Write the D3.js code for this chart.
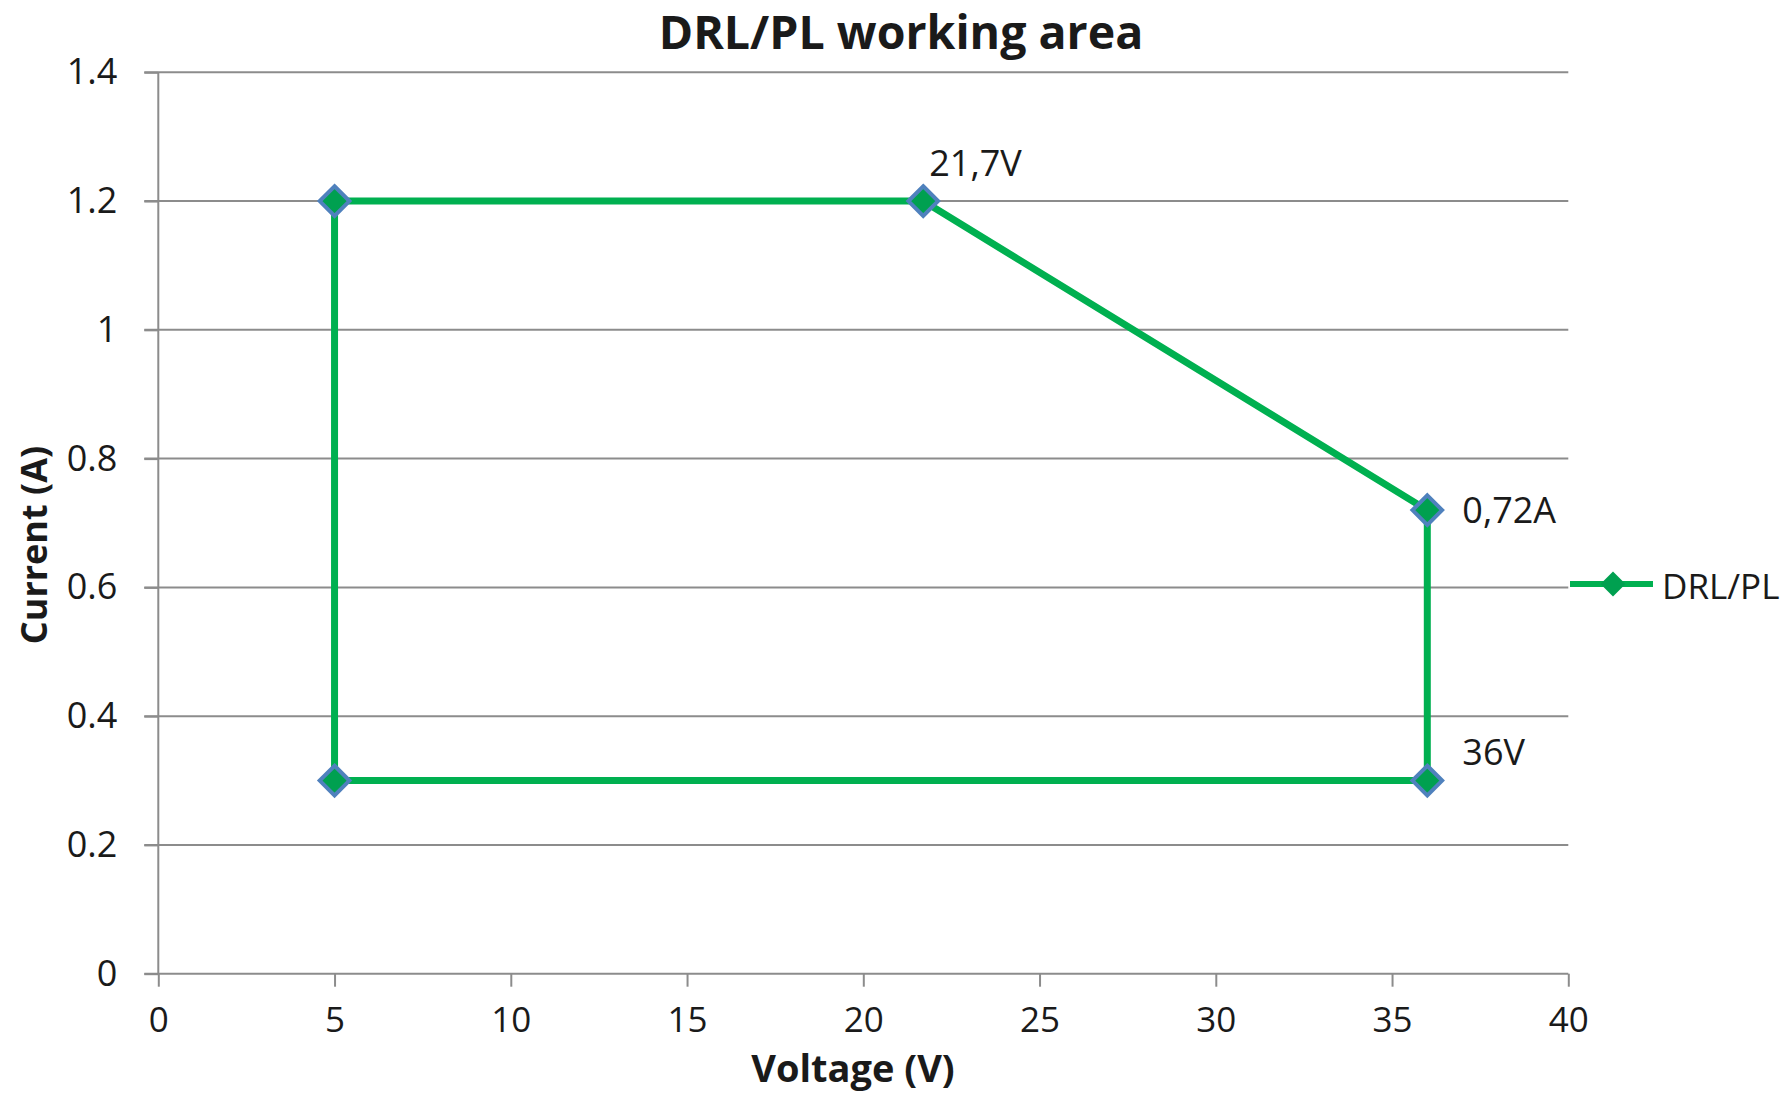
<!DOCTYPE html>
<html><head><meta charset="utf-8">
<script src="https://cdn.jsdelivr.net/npm/d3@7"></script>
<style>body{margin:0;background:#fff}text{font-family:"Open Sans",sans-serif;fill:#1a1a1a}</style>
</head><body>
<svg id="c" width="1787" height="1093"></svg>
<script>
const seriesName = "DRL/PL";
const voltage = [5, 5, 21.7, 36, 36, 5];
const current = [0.3, 1.2, 1.2, 0.72, 0.3, 0.3];
const xTicks = [0, 5, 10, 15, 20, 25, 30, 35, 40];
const yTicks = [0, 0.2, 0.4, 0.6, 0.8, 1, 1.2, 1.4];
const yTickLabels = ["0", "0.2", "0.4", "0.6", "0.8", "1", "1.2", "1.4"];
const pointLabels = [{i: 2, text: "21,7V"}, {i: 3, text: "0,72A"}, {i: 4, text: "36V"}];

const svg = d3.select("#c");
const x = d3.scaleLinear().domain([0, 40]).range([158.3, 1568.3]);
const y = d3.scaleLinear().domain([0, 1.4]).range([973.7, 72.3]);
const grid = "#8c8c8c";

// gridlines
svg.append("g").selectAll("line").data(yTicks.filter(d => d > 0)).join("line")
  .attr("x1", x(0) - 14).attr("x2", x(40)).attr("y1", d => y(d)).attr("y2", d => y(d))
  .attr("stroke", grid).attr("stroke-width", 2);

// axes
const yAxis = svg.append("g").attr("transform", `translate(${x(0)},0)`)
  .call(d3.axisLeft(y).tickValues(yTicks).tickFormat((d, i) => yTickLabels[i]).tickSize(14).tickPadding(27));
yAxis.select(".domain").attr("stroke", grid).attr("stroke-width", 2).attr("d", `M-14,${y(0)}H0V${y(1.4)}`);
yAxis.selectAll(".tick line").attr("stroke", grid).attr("stroke-width", 2);
yAxis.selectAll(".tick text").attr("font-size", 36).attr("fill", "#1a1a1a").attr("font-family", "Open Sans");

const xAxis = svg.append("g").attr("transform", `translate(0,${y(0)})`)
  .call(d3.axisBottom(x).tickValues(xTicks).tickSize(13).tickPadding(20));
xAxis.select(".domain").attr("stroke", grid).attr("stroke-width", 2).attr("d", `M${x(0)},0H${x(40)}`);
xAxis.selectAll(".tick line").attr("stroke", grid).attr("stroke-width", 2);
xAxis.selectAll(".tick text").attr("font-size", 35).attr("fill", "#1a1a1a").attr("font-family", "Open Sans");

// series line
const pts = voltage.map((v, i) => [v, current[i]]);
svg.append("path").datum(pts)
  .attr("d", d3.line().x(d => x(d[0])).y(d => y(d[1])))
  .attr("fill", "none").attr("stroke", "#00b050").attr("stroke-width", 7).attr("stroke-linejoin", "round");

// markers
const diamond = d3.symbol().type(d3.symbolDiamond2).size(560);
svg.append("g").selectAll("path").data(pts.slice(0, 5)).join("path")
  .attr("d", diamond)
  .attr("transform", d => `translate(${x(d[0])},${y(d[1])})`)
  .attr("fill", "#00a050").attr("stroke", "#4f81bd").attr("stroke-width", 4);

// data labels
const offsets = {"21,7V": [6, -38], "0,72A": [35, 0], "36V": [35, -28]};
svg.append("g").selectAll("text").data(pointLabels).join("text")
  .attr("x", d => x(voltage[d.i]) + offsets[d.text][0])
  .attr("y", d => y(current[d.i]) + offsets[d.text][1])
  .attr("dy", "0.35em").attr("font-size", 36).text(d => d.text);

// title
svg.append("text").attr("x", 901).attr("y", 33).attr("dy", "0.35em").attr("text-anchor", "middle")
  .attr("font-size", 46.5).attr("font-weight", "bold").text("DRL/PL working area");

// axis titles
svg.append("text").attr("x", 853).attr("y", 1069).attr("dy", "0.35em").attr("text-anchor", "middle")
  .attr("font-size", 38).attr("font-weight", "bold").text("Voltage (V)");
svg.append("text").attr("transform", "translate(34,545) rotate(-90)").attr("dy", "0.35em").attr("text-anchor", "middle")
  .attr("font-size", 36).attr("font-weight", "bold").text("Current (A)");

// legend
const lg = svg.append("g").attr("transform", "translate(1570,584)");
lg.append("line").attr("x1", 0).attr("x2", 83).attr("stroke", "#00b050").attr("stroke-width", 6);
lg.append("path").attr("d", d3.symbol().type(d3.symbolDiamond2).size(400)).attr("transform", "translate(43,0)").attr("fill", "#00a050");
lg.append("text").attr("x", 92).attr("y", 3).attr("dy", "0.35em").attr("font-size", 35).text(seriesName);
</script>
</body></html>
